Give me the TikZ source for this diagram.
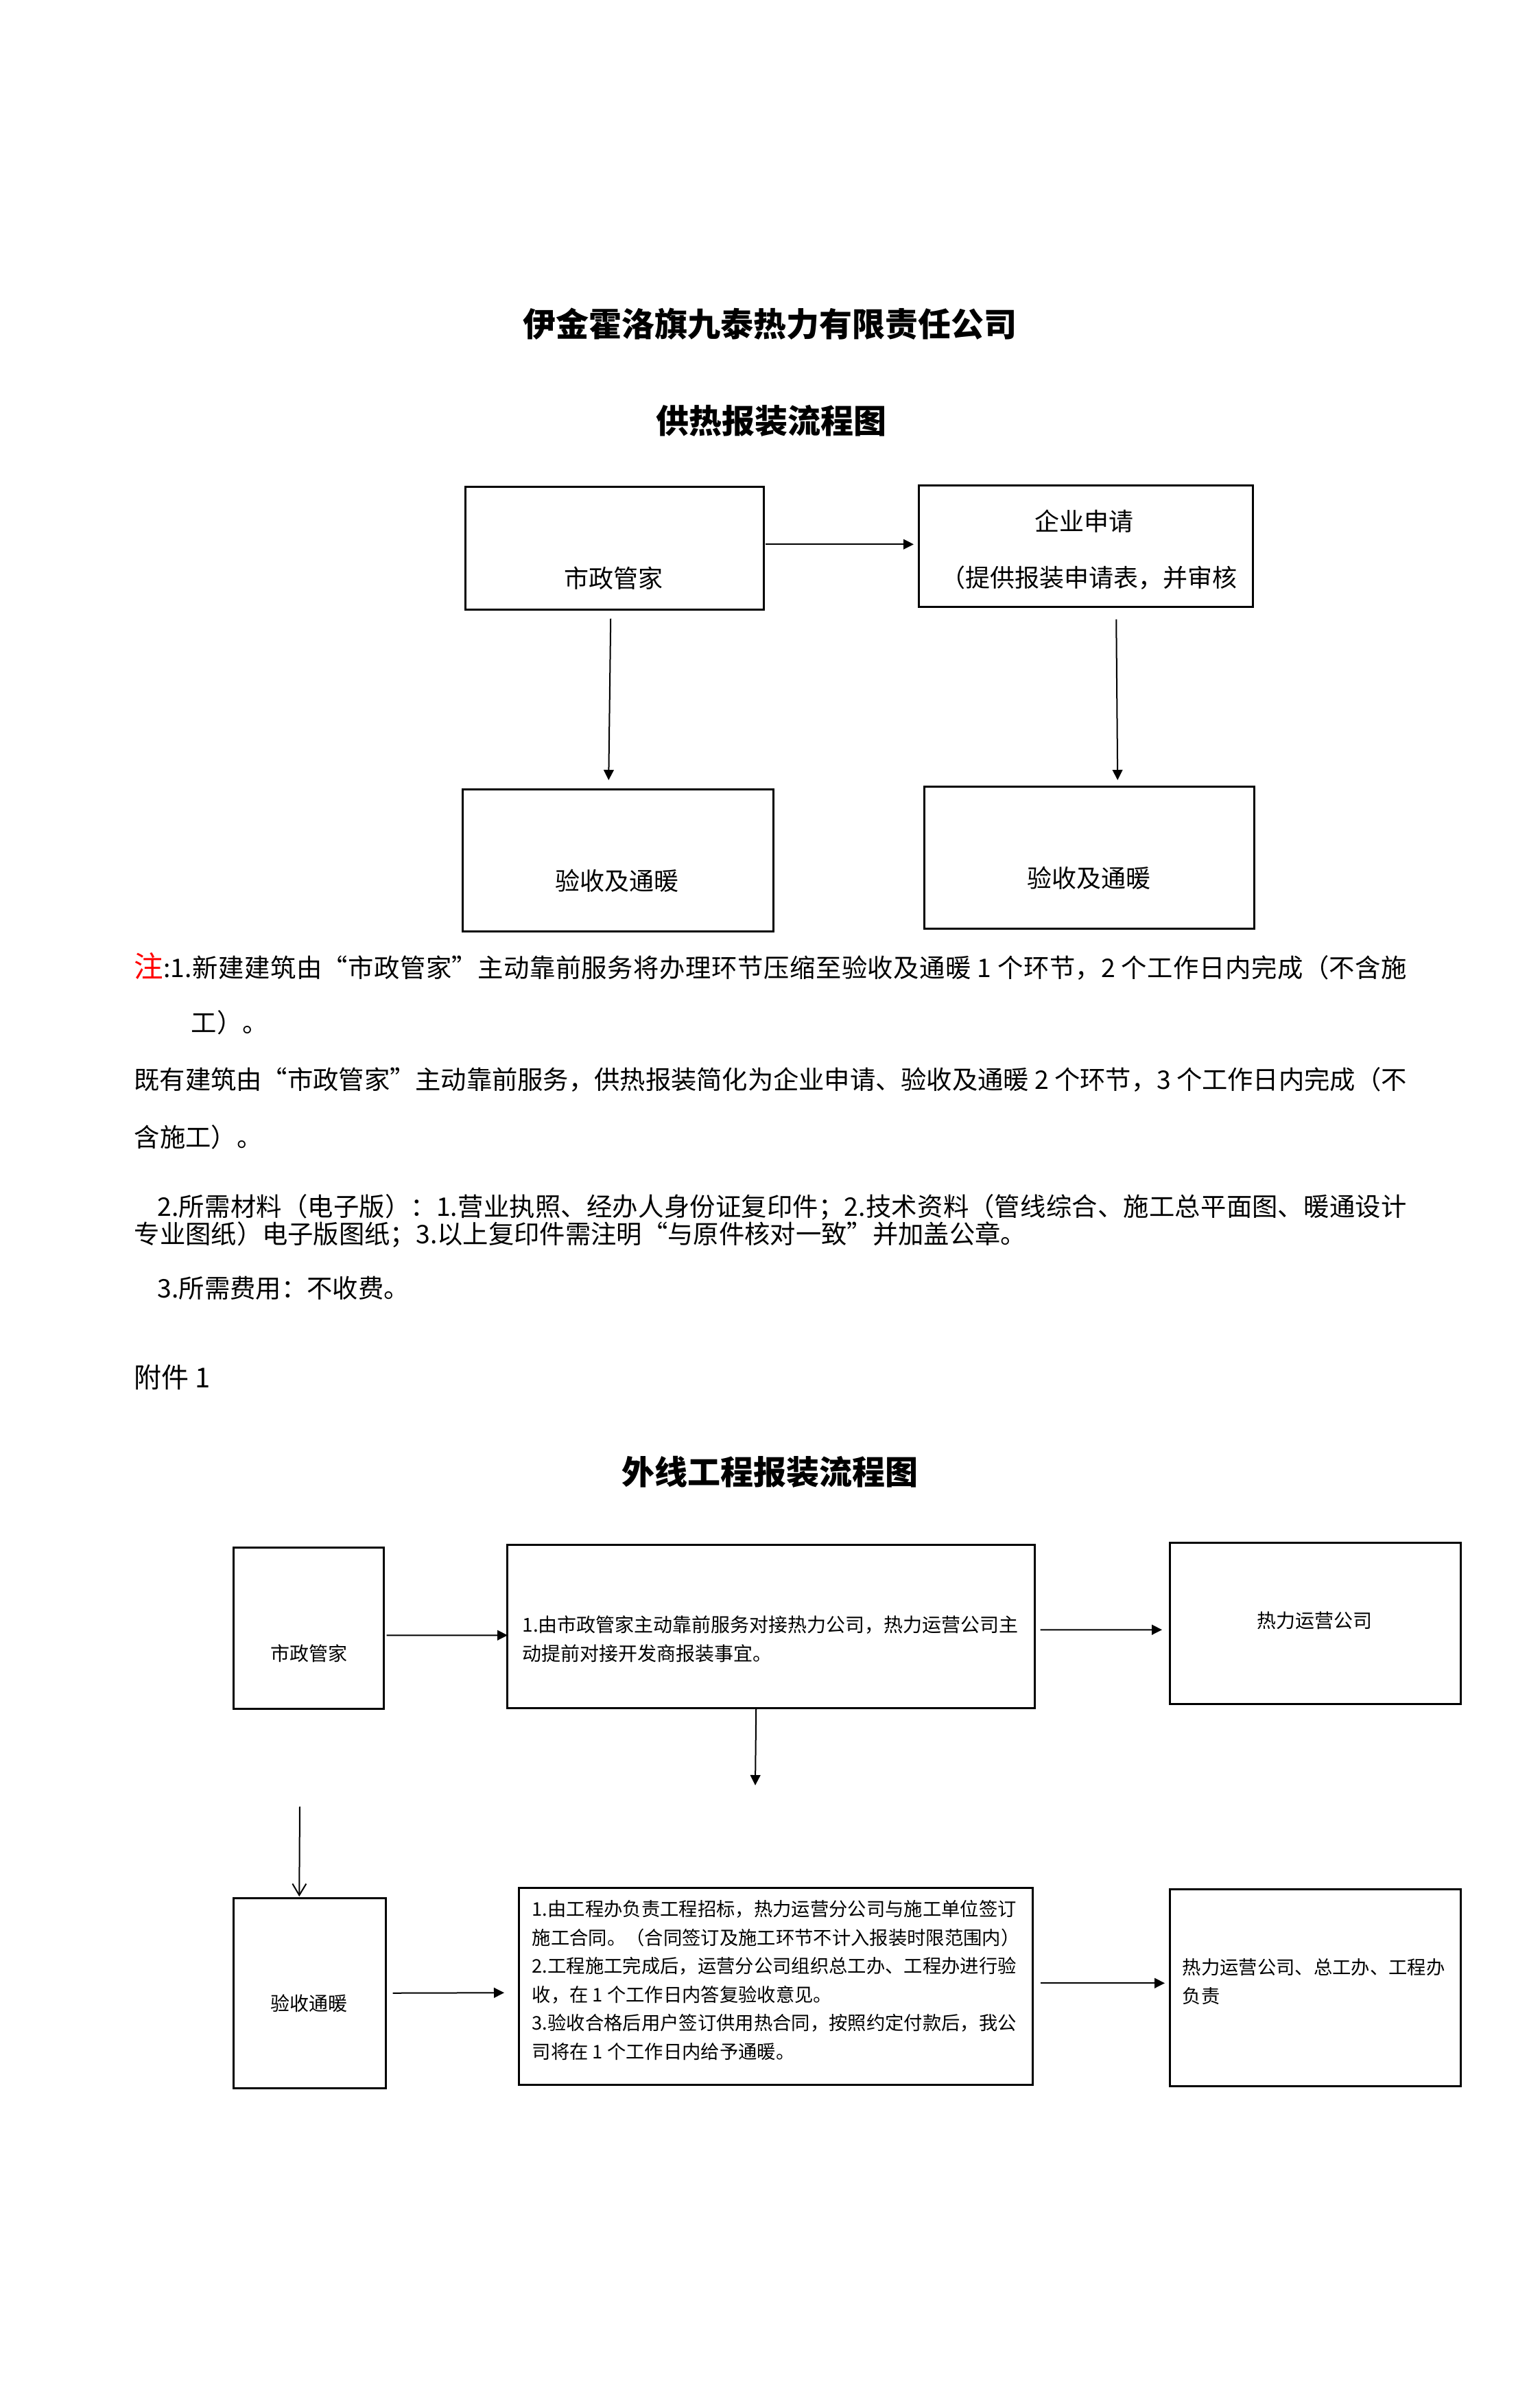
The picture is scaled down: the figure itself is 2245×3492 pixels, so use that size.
\documentclass[tikz,border=0pt]{standalone}
\usepackage{fontspec}
\setmainfont{Noto Sans CJK SC}
\usetikzlibrary{arrows.meta,calc}
\XeTeXlinebreaklocale "zh"
\XeTeXlinebreakskip=0pt plus 2pt minus 0.4pt
\tolerance=9999
\newcommand\jline[2]{\parbox{#1}{\parfillskip=0pt\relax #2}}
\begin{document}
\begin{tikzpicture}[x=0.3pt,y=-0.3pt,
  box/.style={draw, line width=0.75pt, inner sep=0pt, anchor=north west},
  sz/.style 2 args={minimum width=#1*0.3pt, minimum height=#2*0.3pt},
  arr/.style={line width=0.6pt, -{Triangle[length=4.5pt,width=4.4pt]}},
  varr/.style={line width=0.6pt, -{Straight Barb[length=5pt,width=6pt]}},
  ttl/.style={inner sep=0pt, font=\fontsize{14.4pt}{17pt}\selectfont\bfseries},
  btxt/.style={inner sep=0pt, font=\fontsize{10.8pt}{13pt}\selectfont},
  note/.style={inner sep=0pt, anchor=west, font=\fontsize{11.2pt}{13pt}\selectfont},
  stxt/.style={inner sep=0pt, font=\fontsize{8.4pt}{12.5pt}\selectfont},
]
\useasboundingbox (0,0) rectangle (2245,3492);

% titles
\node[ttl] (t1) at (1122,472) {伊金霍洛旗九泰热力有限责任公司};
\node[ttl] (t2) at (1124,613) {供热报装流程图};

% top flow
\node[box, sz={435}{179}] (b1) at (677,708) {};
\node[box, sz={487}{177}] (b2) at (1338,706) {};
\node[box, sz={453}{207}] (b3) at (673,1149) {};
\node[box, sz={481}{207}] (b4) at (1346,1145) {};

\node[btxt] (b1t) at (894,843) {市政管家};
\node[btxt] (b2t) at (1580,760) {企业申请};
\node[btxt, anchor=west] (b2u) at (1371,842) {（提供报装申请表，并审核};
\node[btxt] (b3t) at (899,1284) {验收及通暖};
\node[btxt] (b4t) at (1587,1280) {验收及通暖};

\draw[arr] ($(b1.east)+(1,-5.5)$) -- ($(b2.west)+(-6,-2.5)$);
\draw[arr] ($(b1.south)+(-5.5,12)$) -- ($(b3.north)+(-13.5,-12)$);
\draw[arr] ($(b2.south)+(44.5,17)$) -- ($(b4.north)+(41.5,-8)$);

% notes
\node[note] (n1) at (195,1408) {\jline{556.5pt}{{\color{red}\fontsize{12.8pt}{14pt}\selectfont 注}:1.新建建筑由“市政管家”主动靠前服务将办理环节压缩至验收及通暖 1 个环节，2 个工作日内完成（不含施}};
\node[note] (n2) at (278,1490) {工）。};
\node[note] (n3) at (195,1573) {\jline{556.5pt}{既有建筑由“市政管家”主动靠前服务，供热报装简化为企业申请、验收及通暖 2 个环节，3 个工作日内完成（不}};
\node[note] (n4) at (195,1657) {含施工）。};
\node[note] (n5) at (229,1759) {\jline{546.3pt}{2.所需材料（电子版）：1.营业执照、经办人身份证复印件；2.技术资料（管线综合、施工总平面图、暖通设计}};
\node[note] (n6) at (195,1800) {专业图纸）电子版图纸；3.以上复印件需注明“与原件核对一致”并加盖公章。};
\node[note] (n7) at (229,1877) {3.所需费用：不收费。};
\node[note, font=\fontsize{12pt}{14pt}\selectfont] (fj) at (195,2007) {附件 1};

\node[ttl] (t3) at (1122,2145) {外线工程报装流程图};

% bottom flow
\node[box, sz={219}{235}] (A) at (339,2254) {};
\node[box, sz={769}{238}] (B) at (738,2250) {};
\node[box, sz={424}{235}] (C) at (1704,2247) {};
\node[box, sz={222}{277}] (D) at (339,2765) {};
\node[box, sz={749}{287}] (E) at (755,2750) {};
\node[box, sz={424}{287}] (F) at (1704,2752) {};

\node[stxt] (At) at (450,2410) {市政管家};
\node[stxt, anchor=north west, align=left] (Bt) at (761,2354) {1.由市政管家主动靠前服务对接热力公司，热力运营公司主\\动提前对接开发商报装事宜。};
\node[stxt] (Ct) at (1916,2362) {热力运营公司};
\node[stxt] (Dt) at (450,2920) {验收通暖};
\node[stxt, anchor=north west, align=left, font=\fontsize{8.2pt}{12.45pt}\selectfont] (Et) at (775,2769) {1.由工程办负责工程招标，热力运营分公司与施工单位签订\\施工合同。（合同签订及施工环节不计入报装时限范围内）\\2.工程施工完成后，运营分公司组织总工办、工程办进行验\\收，在 1 个工作日内答复验收意见。\\3.验收合格后用户签订供用热合同，按照约定付款后，我公\\司将在 1 个工作日内给予通暖。};
\node[stxt, anchor=north west, align=left, font=\fontsize{8.2pt}{12.6pt}\selectfont] (Ft) at (1723,2854) {热力运营公司、总工办、工程办\\负责};

\coordinate (Bdown) at (1101,2602);
\coordinate (Dtop) at (437,2633);

\draw[arr] ($(A.east)+(3,10.5)$) -- ($(B.west)+(2,13)$);
\draw[arr] ($(B.east)+(7,5)$) -- ($(C.west)+(-10,9.5)$);
\draw[arr] ($(B.south)+(-21.5,0)$) -- (Bdown);
\draw[varr] (Dtop) -- ($(D.north)+(-15,-1)$);
\draw[arr] ($(D.east)+(9,0)$) -- ($(E.west)+(-20,9.5)$);
\draw[arr] ($(E.east)+(10,-4.5)$) -- ($(F.west)+(-6,-6.5)$);
\end{tikzpicture}
\end{document}
